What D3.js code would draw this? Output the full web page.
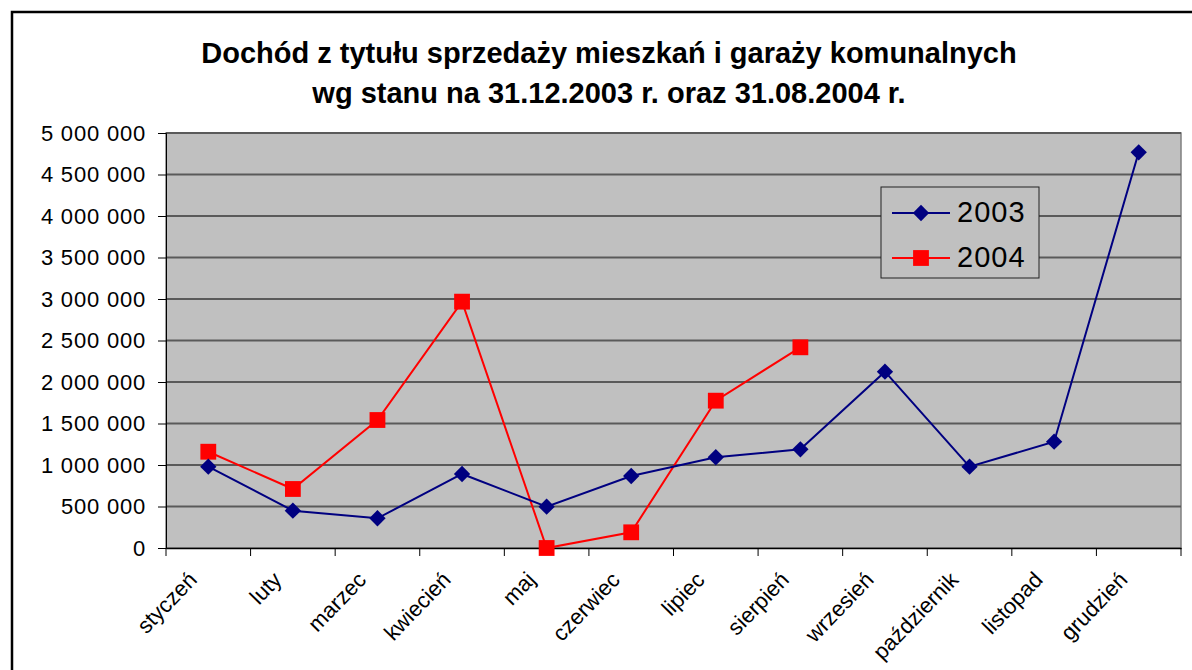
<!DOCTYPE html>
<html>
<head>
<meta charset="utf-8">
<script src="https://cdn.jsdelivr.net/npm/d3@7"></script>
<style>
  body { margin: 0; background: #fff; }
  svg { display: block; font-family: "Liberation Sans", Arial, sans-serif; }
</style>
</head>
<body>
<script>
// dane
var miesiace = ["styczeń", "luty", "marzec", "kwiecień", "maj", "czerwiec",
                "lipiec", "sierpień", "wrzesień", "październik", "listopad", "grudzień"];
var rok2003 = [980000, 450000, 358000, 892000, 498000, 867000,
               1093000, 1189000, 2124000, 980000, 1281000, 4767000];
var rok2004 = [1160000, 711000, 1542000, 2968000, 0, 189000, 1775000, 2418000];
var yTicks = [0, 500000, 1000000, 1500000, 2000000, 2500000, 3000000, 3500000, 4000000, 4500000, 5000000];

var W = 1192, H = 670;
var m = { left: 166, right: 1181, top: 133, bottom: 548 };

var svg = d3.select("body").append("svg")
  .attr("width", W).attr("height", H);

// ramka wykresu
svg.append("rect")
  .attr("x", 12).attr("y", 12)
  .attr("width", W + 10).attr("height", H + 10)
  .attr("fill", "#fff").attr("stroke", "#000").attr("stroke-width", 2.5);

// tytuł
var title = svg.append("text")
  .attr("text-anchor", "middle")
  .attr("font-weight", "bold")
  .attr("font-size", "29px")
  .attr("fill", "#000");
title.append("tspan").attr("x", 609).attr("y", 63)
  .text("Dochód z tytułu sprzedaży mieszkań i garaży komunalnych");
title.append("tspan").attr("x", 609).attr("y", 103)
  .text("wg stanu na 31.12.2003 r. oraz 31.08.2004 r.");

var x = d3.scaleBand().domain(miesiace).range([m.left, m.right]);
var y = d3.scaleLinear().domain([0, 5000000]).range([m.bottom, m.top]);

// tło obszaru
svg.append("rect")
  .attr("x", m.left).attr("y", m.top)
  .attr("width", m.right - m.left).attr("height", m.bottom - m.top)
  .attr("fill", "#c0c0c0").attr("stroke", "#808080").attr("stroke-width", 1.5);

// linie siatki
svg.selectAll("line.grid")
  .data(yTicks.slice(1))
  .enter()
  .append("line")
  .attr("class", "grid")
  .attr("x1", m.left).attr("x2", m.right)
  .attr("y1", function (d) { return y(d); })
  .attr("y2", function (d) { return y(d); })
  .attr("stroke", "#5a5a5a").attr("stroke-width", 2);

// oś Y
var fmt = function (d) { return d3.format(",")(d).replace(/,/g, " "); };
var yAxis = svg.append("g")
  .attr("transform", "translate(" + m.left + ",0)")
  .call(d3.axisLeft(y).tickValues(yTicks).tickFormat(fmt).tickSize(8).tickPadding(12));
yAxis.select(".domain").attr("stroke", "#000").attr("stroke-width", 1);
yAxis.selectAll(".tick line").attr("stroke", "#000");
yAxis.selectAll("text")
  .attr("font-size", "22px")
  .attr("letter-spacing", "0.8px")
  .attr("font-family", "Liberation Sans, Arial, sans-serif")
  .attr("fill", "#000");

// oś X
var xAxis = svg.append("g")
  .attr("transform", "translate(0," + m.bottom + ")")
  .call(d3.axisBottom(x).tickSize(0).tickFormat(""));
xAxis.select(".domain").attr("stroke", "#000").attr("stroke-width", 1.5);

var granice = d3.range(miesiace.length + 1).map(function (i) {
  return m.left + i * x.bandwidth();
});
svg.selectAll("line.xtick")
  .data(granice)
  .enter()
  .append("line")
  .attr("class", "xtick")
  .attr("x1", function (d) { return d; }).attr("x2", function (d) { return d; })
  .attr("y1", m.bottom).attr("y2", m.bottom + 8)
  .attr("stroke", "#000").attr("stroke-width", 1);

svg.selectAll("text.xlab")
  .data(miesiace)
  .enter()
  .append("text")
  .attr("class", "xlab")
  .attr("text-anchor", "end")
  .attr("font-size", "22px")
  .attr("fill", "#000")
  .attr("transform", function (d) {
    return "translate(" + (x(d) + x.bandwidth() / 2 - 10) + "," + (m.bottom + 33) + ") rotate(-46)";
  })
  .text(function (d) { return d; });

// serie
var seria2003 = rok2003.map(function (v, i) { return { m: miesiace[i], v: v }; });
var seria2004 = rok2004.map(function (v, i) { return { m: miesiace[i], v: v }; });

var line = d3.line()
  .x(function (d) { return x(d.m) + x.bandwidth() / 2; })
  .y(function (d) { return y(d.v); });

svg.append("path").datum(seria2004)
  .attr("d", line).attr("fill", "none")
  .attr("stroke", "#ff0000").attr("stroke-width", 2);
svg.append("path").datum(seria2003)
  .attr("d", line).attr("fill", "none")
  .attr("stroke", "#000080").attr("stroke-width", 2);

var diament = d3.symbol().type(d3.symbolDiamond2).size(170);
var kwadrat = d3.symbol().type(d3.symbolSquare).size(250);

svg.selectAll("path.p2004")
  .data(seria2004)
  .enter()
  .append("path")
  .attr("class", "p2004")
  .attr("d", kwadrat)
  .attr("transform", function (d) {
    return "translate(" + (x(d.m) + x.bandwidth() / 2) + "," + y(d.v) + ")";
  })
  .attr("fill", "#ff0000");

svg.selectAll("path.p2003")
  .data(seria2003)
  .enter()
  .append("path")
  .attr("class", "p2003")
  .attr("d", diament)
  .attr("transform", function (d) {
    return "translate(" + (x(d.m) + x.bandwidth() / 2) + "," + y(d.v) + ")";
  })
  .attr("fill", "#000080");

// legenda
var leg = svg.append("g").attr("transform", "translate(881,187)");
leg.append("rect")
  .attr("width", 158).attr("height", 91)
  .attr("fill", "#c0c0c0").attr("stroke", "#222").attr("stroke-width", 1);

var legItems = [
  { name: "2003", color: "#000080", sym: diament, y: 26 },
  { name: "2004", color: "#ff0000", sym: kwadrat, y: 71 }
];
legItems.forEach(function (it) {
  leg.append("line")
    .attr("x1", 11).attr("x2", 69)
    .attr("y1", it.y).attr("y2", it.y)
    .attr("stroke", it.color).attr("stroke-width", 2);
  leg.append("path")
    .attr("d", it.sym)
    .attr("transform", "translate(40," + it.y + ")")
    .attr("fill", it.color);
  leg.append("text")
    .attr("x", 76).attr("y", it.y + 8.5)
    .attr("font-size", "29px")
    .attr("letter-spacing", "1px")
    .attr("fill", "#000")
    .text(it.name);
});
</script>
</body>
</html>
